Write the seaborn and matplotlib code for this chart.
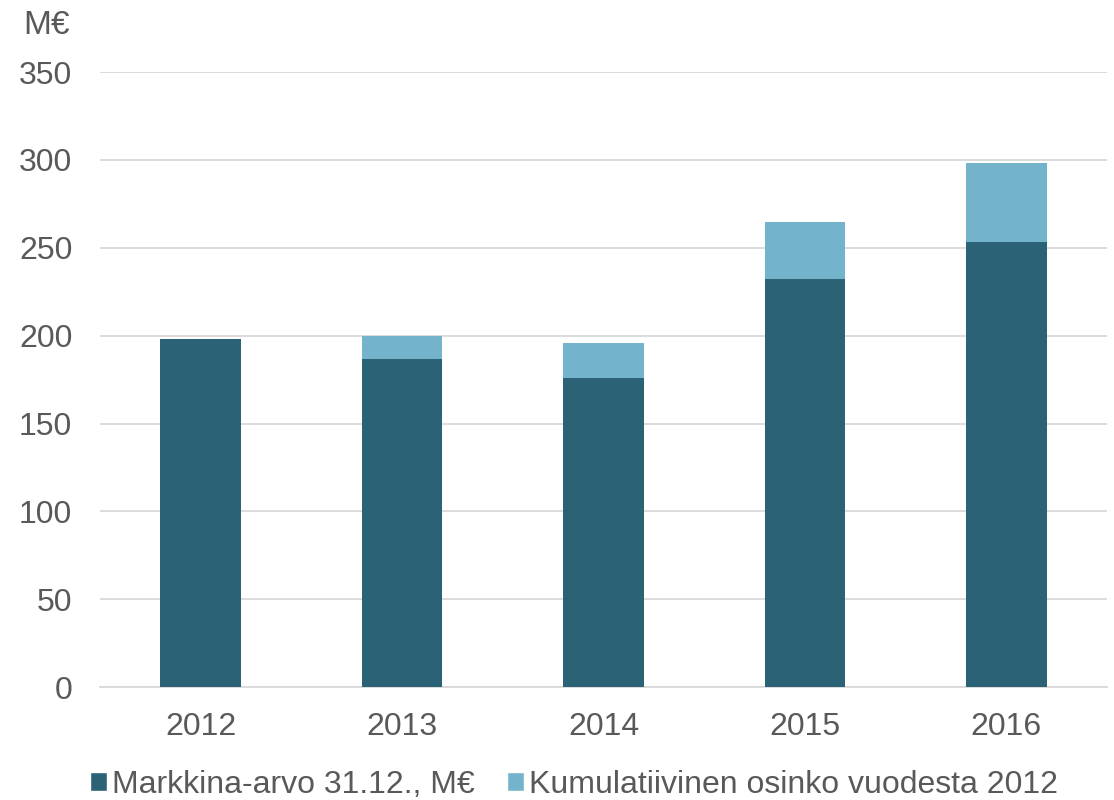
import numpy as np
import pandas as pd
import matplotlib
matplotlib.use('Agg')
import matplotlib.pyplot as plt
import seaborn as sns
from matplotlib.patches import Patch

# Data
years = ['2012', '2013', '2014', '2015', '2016']
market_value = [198, 187, 176, 232.5, 253.5]
cum_dividend = [0, 13, 20, 32, 45]

dark = '#2C6275'
light = '#73B4CC'
text_col = '#595959'

sns.set_style('white')
plt.rcParams['font.family'] = ['Liberation Sans', 'DejaVu Sans']

df = pd.DataFrame({
    'Vuosi': years,
    'Markkina-arvo': market_value,
    'Osinko': cum_dividend,
})
df['Yhteensä'] = df['Markkina-arvo'] + df['Osinko']

fig = plt.figure(figsize=(11.14, 8), dpi=100)
ax = fig.add_axes([0.0898, 0.141, 0.9039, 0.769])

# stacked: total first (light), market value on top (dark)
sns.barplot(data=df, x='Vuosi', y='Yhteensä', color=light, saturation=1,
            width=0.4, ax=ax, zorder=2, linewidth=0)
sns.barplot(data=df, x='Vuosi', y='Markkina-arvo', color=dark, saturation=1,
            width=0.4, ax=ax, zorder=3, linewidth=0)

ax.set_ylim(0, 350)
ax.set_xlim(-0.5, 4.5)
ax.set_yticks(np.arange(0, 351, 50))
ax.yaxis.grid(True, color='#D9D9D9', linewidth=1.3, zorder=0)
ax.set_axisbelow(True)
for s in ['top', 'right', 'left']:
    ax.spines[s].set_visible(False)
ax.spines['bottom'].set_color('#D9D9D9')
ax.spines['bottom'].set_linewidth(1.3)
ax.tick_params(axis='both', length=0, labelsize=23, colors=text_col)
ax.tick_params(axis='y', pad=20)
ax.tick_params(axis='x', pad=18)
ax.set_xlabel('')
ax.set_ylabel('')

fig.text(0.021, 0.968, 'M€', fontsize=24, color=text_col, va='center', ha='left')

handles = [Patch(facecolor=dark, label='Markkina-arvo 31.12., M€'),
           Patch(facecolor=light, label='Kumulatiivinen osinko vuodesta 2012')]
fig.legend(handles=handles, loc='lower center', bbox_to_anchor=(0.515, -0.036), ncol=2,
           frameon=False, fontsize=23, labelcolor=text_col, handlelength=0.55,
           handleheight=0.55, handletextpad=0.15, columnspacing=1.0)

fig.savefig('out.png', dpi=100)
